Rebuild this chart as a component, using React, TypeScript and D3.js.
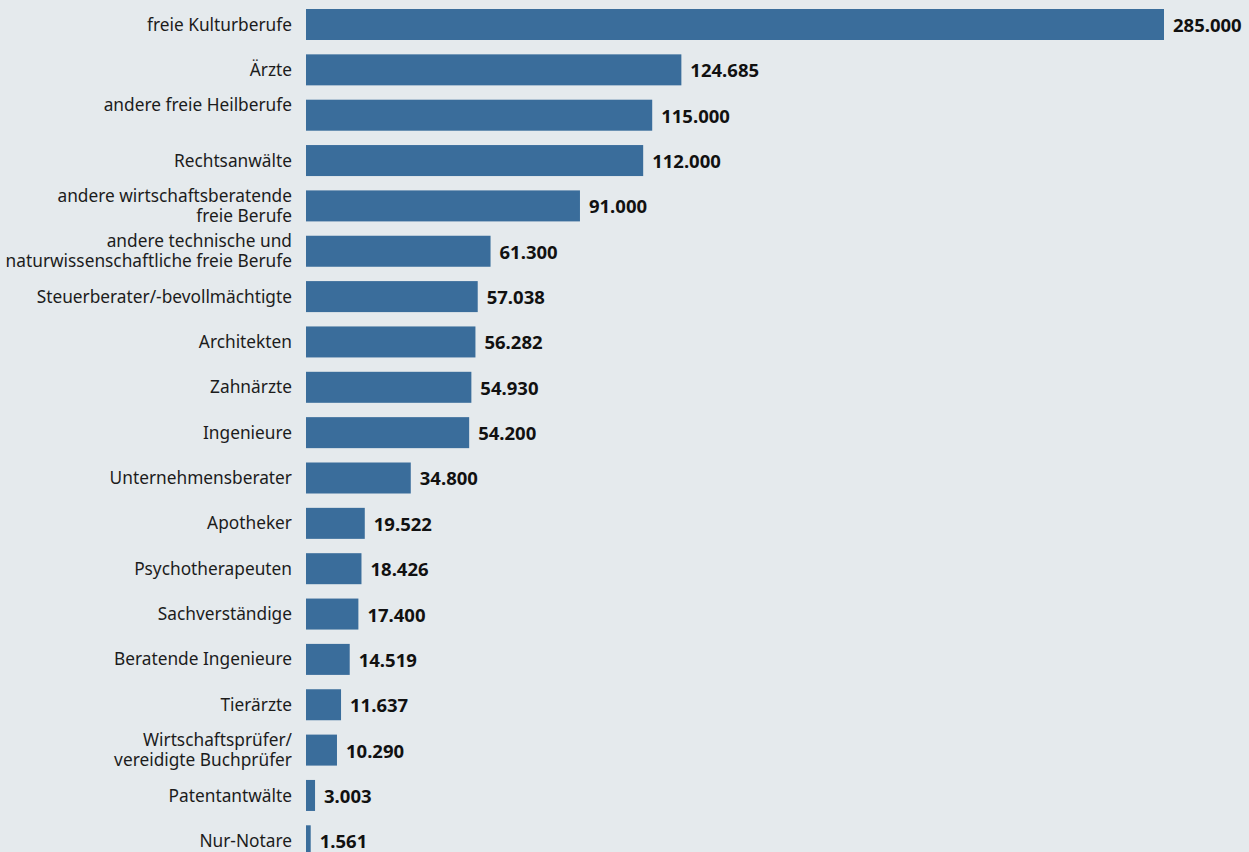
import React from "react";
import * as d3 from "d3";

const categories: string[][] = [
  ["freie Kulturberufe"],
  ["Ärzte"],
  ["andere freie Heilberufe", ""],
  ["Rechtsanwälte"],
  ["andere wirtschaftsberatende", "freie Berufe"],
  ["andere technische und", "naturwissenschaftliche freie Berufe"],
  ["Steuerberater/-bevollmächtigte"],
  ["Architekten"],
  ["Zahnärzte"],
  ["Ingenieure"],
  ["Unternehmensberater"],
  ["Apotheker"],
  ["Psychotherapeuten"],
  ["Sachverständige"],
  ["Beratende Ingenieure"],
  ["Tierärzte"],
  ["Wirtschaftsprüfer/", "vereidigte Buchprüfer"],
  ["Patentantwälte"],
  ["Nur-Notare"],
];
const values: number[] = [
  285000, 124685, 115000, 112000, 91000, 61300, 57038, 56282, 54930, 54200,
  34800, 19522, 18426, 17400, 14519, 11637, 10290, 3003, 1561,
];

const W = 1249;
const H = 852;
const BG = "#e5eaed";
const BAR = "#3a6d9b";
const FONT = "'Noto Sans', 'Open Sans', sans-serif";

const fmt = (v: number) => d3.format(",")(v).replace(/,/g, ".");

export default function App() {
  const ids = categories.map((_, i) => String(i));
  const x = d3.scaleLinear().domain([0, 285000]).range([306, 1164]);
  const step = 45.35;
  const bh = 31;
  const pad = (step - bh) / step;
  const y = d3
    .scaleBand<string>()
    .domain(ids)
    .range([9, 9 + 18 * step + bh])
    .paddingInner(pad)
    .paddingOuter(0);

  return (
    <svg
      width={W}
      height={H}
      style={{ position: "absolute", left: 0, top: 0, background: BG }}
      fontFamily={FONT}
    >
      <rect x={0} y={0} width={W} height={H} fill={BG} />
      {ids.map((id, i) => {
        const yc = (y(id) as number) + y.bandwidth() / 2;
        const lines = categories[i];
        const lh = 20;
        const y0 = yc - ((lines.length - 1) * lh) / 2;
        return (
          <g key={id}>
            <rect
              x={x(0)}
              y={y(id)}
              width={x(values[i]) - x(0)}
              height={y.bandwidth()}
              fill={BAR}
            />
            <text
              x={292}
              textAnchor="end"
              fontSize={17.3}
              fill="#1c1c1c"
            >
              {lines.map((l, k) => (
                <tspan key={k} x={292} y={y0 + k * lh} dy="0.35em">
                  {l}
                </tspan>
              ))}
            </text>
            <text
              x={x(values[i]) + 9}
              y={yc + 1}
              dy="0.35em"
              fontSize={18.5}
              fontWeight="bold"
              fill="#111"
            >
              {fmt(values[i])}
            </text>
          </g>
        );
      })}
    </svg>
  );
}
